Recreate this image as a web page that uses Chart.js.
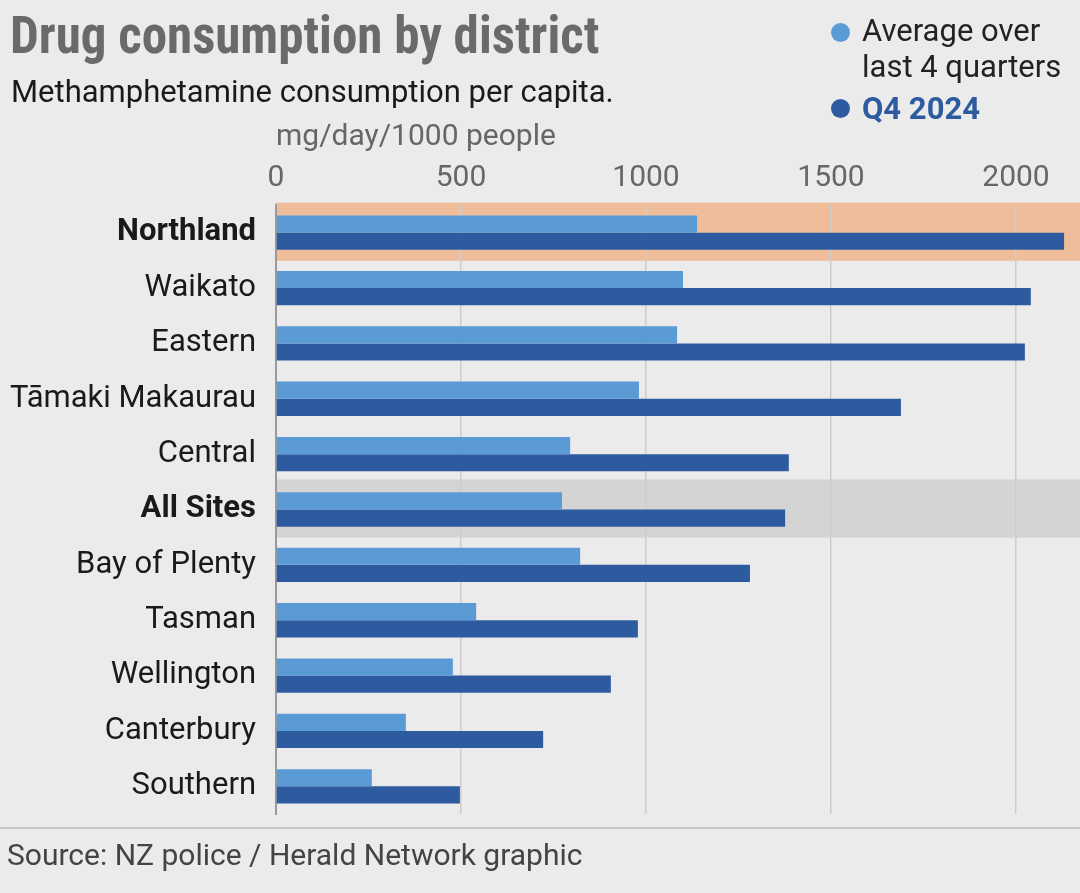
<!DOCTYPE html>
<html>
<head>
<meta charset="utf-8">
<script src="https://cdn.jsdelivr.net/npm/chart.js@4/dist/chart.umd.min.js"></script>
<style>
  html, body { margin:0; padding:0; background:#ebebeb; }
  body { width:1080px; height:893px; position:relative; overflow:hidden; font-family:Roboto, sans-serif; }
  #wrap { position:absolute; left:0; top:0; width:1080px; height:893px; }
  .t { position:absolute; white-space:nowrap; }
  #title { left:10px; top:6px; font-size:51px; font-weight:700; color:#6a6a6a; font-family:"Roboto Condensed", Roboto, sans-serif; }
  #sub { left:11px; top:73px; font-size:31px; color:#1a1a1a; }
  .dot { position:absolute; width:19px; height:19px; border-radius:50%; }
  #leg1 { left:862px; top:13px; font-size:31px; line-height:36px; color:#222; }
  #leg2 { left:862px; top:90px; font-size:31px; font-weight:700; color:#2e5b9f; }
  #rule { position:absolute; left:0; top:827px; width:1080px; height:2px; background:#c4c4c4; }
  #src { left:7px; top:837px; font-size:30px; color:#444; }
</style>
</head>
<body>
<div id="wrap"><canvas id="c" width="1080" height="893"></canvas></div>
<div class="t" id="title">Drug consumption by district</div>
<div class="t" id="sub">Methamphetamine consumption per capita.</div>
<div class="dot" style="left:831px;top:23px;background:#5b9bd5"></div>
<div class="t" id="leg1">Average over<br>last 4 quarters</div>
<div class="dot" style="left:831px;top:99px;background:#2e5b9f"></div>
<div class="t" id="leg2">Q4 2024</div>
<div id="rule"></div>
<div class="t" id="src">Source: NZ police / Herald Network graphic</div>
<script>
const categories = ['Northland','Waikato','Eastern','Tāmaki Makaurau','Central','All Sites','Bay of Plenty','Tasman','Wellington','Canterbury','Southern'];
const avgLast4Quarters = [1138,1100,1084,981,795,773,822,541,478,351,259];
const q42024 = [2130,2040,2024,1689,1386,1376,1281,978,905,722,497];
const xTickValues = [0,500,1000,1500,2000];
const boldCategories = ['Northland','All Sites'];
const highlightCategories = ['Northland','All Sites'];
const highlightColors = ['#efbd99','#d4d4d4'];

const bandPlugin = {
  id:'bands',
  beforeDraw(chart){
    const {ctx, chartArea, scales:{y}} = chart;
    const step = y.getPixelForValue(1) - y.getPixelForValue(0);
    highlightCategories.forEach((cat,i)=>{
      const idx = categories.indexOf(cat);
      const cy = y.getPixelForValue(idx) - 1;
      ctx.save();
      ctx.fillStyle = highlightColors[i];
      ctx.fillRect(chartArea.left, cy - step*0.525, chart.width - chartArea.left, step*1.05);
      ctx.restore();
    });
  }
};

new Chart(document.getElementById('c'), {
  type:'bar',
  data:{
    labels:categories,
    datasets:[
      {label:'Average over last 4 quarters', data:avgLast4Quarters, backgroundColor:'#5b9bd5', categoryPercentage:0.62, barPercentage:1},
      {label:'Q4 2024', data:q42024, backgroundColor:'#2e5b9f', categoryPercentage:0.62, barPercentage:1}
    ]
  },
  options:{
    indexAxis:'y',
    responsive:false,
    animation:false,
    layout:{padding:{top:119, bottom:79, left:0, right:0}},
    plugins:{legend:{display:false}, tooltip:{enabled:false}},
    scales:{
      x:{
        position:'top',
        min:0, max:2173,
        afterBuildTicks(s){ s.ticks = xTickValues.map(v=>({value:v})); },
        afterFit(s){ s.height = 86; },
        grid:{drawTicks:false, color:(c)=> c.tick && c.tick.value===0 ? 'rgba(0,0,0,0)' : '#cdcdcd', lineWidth:1.5},
        border:{display:false},
        ticks:{padding:9, color:'#666', font:{family:'Roboto', size:30}, callback:(v)=>String(v)},
        title:{display:true, text:'mg/day/1000 people', align:'start', color:'#666', padding:{top:0,bottom:0}, font:{family:'Roboto', size:30}}
      },
      y:{
        afterFit(s){ s.width = 276; },
        grid:{display:false},
        border:{display:true, color:'#9a9a9a', width:2},
        ticks:{padding:12, color:'#1a1a1a', font:(c)=>({family:'Roboto', size:31, weight: boldCategories.includes(categories[c.index]) ? 'bold' : 'normal'})}
      }
    }
  },
  plugins:[bandPlugin]
});
</script>
</body>
</html>
